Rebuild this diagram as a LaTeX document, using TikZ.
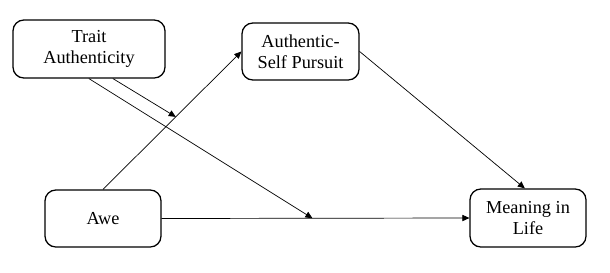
\documentclass[tikz,border=0pt]{standalone}
\usepackage{fontspec}
\setmainfont{Liberation Serif}
\usetikzlibrary{arrows.meta}

\begin{document}
\begin{tikzpicture}[x=0.025cm,y=-0.025cm,>={Triangle[length=5pt,width=4.5pt]},
    line cap=round,line join=round,
    varbox/.style={draw,line width=.9pt,rounded corners=0.27cm,align=center,
      font=\fontsize{13}{15}\selectfont,inner sep=0pt},
    path/.style={->,line width=.5pt}]
    \useasboundingbox (0,0) rectangle (610,272);

    % The four variables.
    \node[varbox,minimum width=152*0.025cm,minimum height=58*0.025cm]
      (trait) at (89,49) {Trait\\Authenticity};
    \node[varbox,minimum width=117*0.025cm,minimum height=57*0.025cm]
      (pursuit) at (300.5,51.5) {Authentic-\\Self Pursuit};
    \node[varbox,minimum width=116*0.025cm,minimum height=57*0.025cm]
      (awe) at (103,218.5) {Awe};
    \node[varbox,minimum width=116*0.025cm,minimum height=58*0.025cm]
      (meaning) at (528,218) {Meaning in\\Life};

    % Mediation paths, with the points that the moderator aims at.
    \draw[path] (awe.north) -- coordinate[pos=0.526] (modA) (pursuit.west);
    \draw[path] (pursuit.east) -- ([xshift=-0.08cm]meaning.north);
    \draw[path] (awe.east) -- coordinate[pos=0.49] (modB) (meaning.west);

    % Moderation by trait authenticity.
    \draw[path] ([xshift=0.6cm]trait.south) -- (modA);
    \draw[path] (trait.south) -- (modB);
  \end{tikzpicture}
\end{document}
